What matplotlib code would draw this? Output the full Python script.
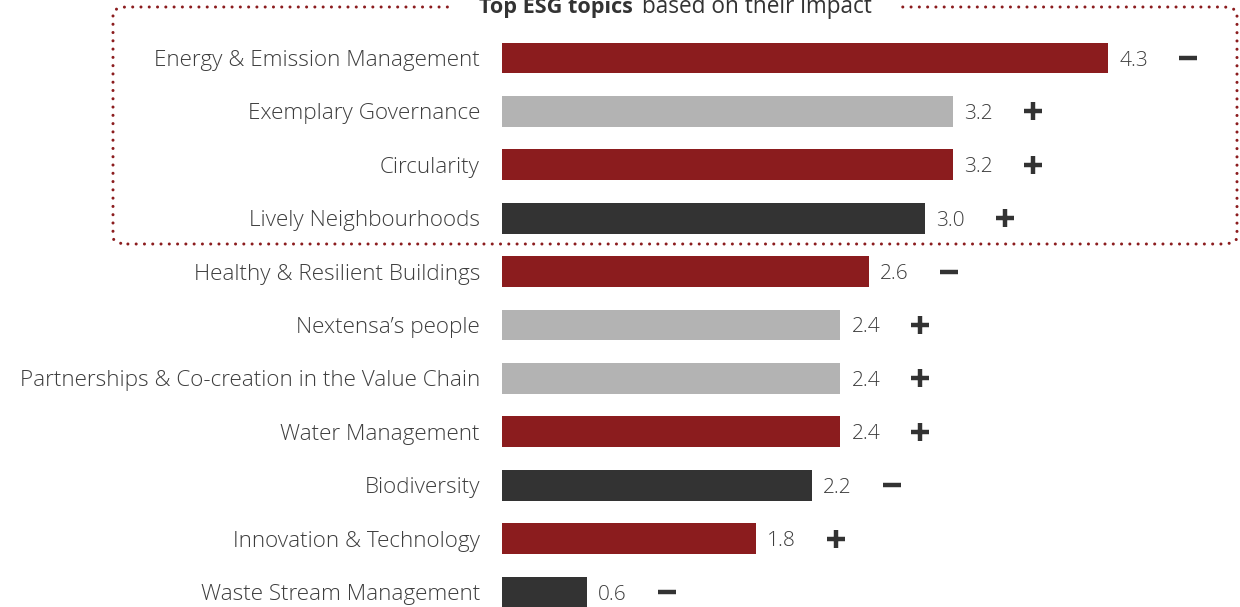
import matplotlib.pyplot as plt
from matplotlib.patches import FancyBboxPatch

topics = [
    "Energy & Emission Management",
    "Exemplary Governance",
    "Circularity",
    "Lively Neighbourhoods",
    "Healthy & Resilient Buildings",
    "Nextensa\u2019s people",
    "Partnerships & Co-creation in the Value Chain",
    "Water Management",
    "Biodiversity",
    "Innovation & Technology",
    "Waste Stream Management",
]
impact = [4.3, 3.2, 3.2, 3.0, 2.6, 2.4, 2.4, 2.4, 2.2, 1.8, 0.6]
trend = ["-", "+", "+", "+", "-", "+", "+", "+", "-", "+", "-"]
group = ["env", "gov", "env", "soc", "env", "gov", "gov", "env", "soc", "env", "soc"]

colors = {"env": "#8b1c1e", "gov": "#b3b3b3", "soc": "#333333"}
text_color = "#3d3d3d"

plt.rcParams['font.family'] = ['Open Sans', 'DejaVu Sans']

W, H = 1240, 607
fig = plt.figure(figsize=(W / 100, H / 100), dpi=100)

# axes covers the plotting strip right of the labels; 141 px per unit
x0 = 502
px_per_unit = 141
row0, row_step = 58, 53.4
ax = fig.add_axes([x0 / W, 0, 1 - x0 / W, 1])
ax.set_xlim(0, (W - x0) / px_per_unit)
ax.set_ylim((H - row0) / row_step, -row0 / row_step)
ax.axis('off')

rows = list(range(len(topics)))
ax.barh(rows, impact, height=0.58, color=[colors[g] for g in group])

lab_off = 22 / px_per_unit
val_off = 11 / px_per_unit
sign_off = 80 / px_per_unit
for i, (name, v, t) in enumerate(zip(topics, impact, trend)):
    ax.text(-lab_off, i, name, ha='right', va='center_baseline', fontsize=16.2,
            fontweight='light', color=text_color, clip_on=False)
    ax.text(v + val_off, i, f"{v:.1f}", ha='left', va='center_baseline',
            fontsize=15, fontweight='light', color=text_color)
    ax.plot(v + sign_off, i, marker='+' if t == "+" else '_', markersize=13.5,
            markeredgewidth=3.2, color="#333333")

# dotted frame around the top topics
frame = FancyBboxPatch((113 / W, 1 - 244 / H), (1237 - 113) / W, (244 - 7) / H,
                       boxstyle="round,pad=0,rounding_size=0.012",
                       transform=fig.transFigure, fill=False,
                       edgecolor="#8b1c1e", linewidth=2.2,
                       linestyle=(0, (0.01, 2.7)), capstyle='round')
fig.add_artist(frame)

# white strip breaking the frame behind the title
fig.patches.append(plt.Rectangle((452 / W, 1 - 14 / H), 446 / W, 14 / H,
                                 transform=fig.transFigure, facecolor='white',
                                 edgecolor='none', zorder=3))

title_y = 1 - 13 / H
fig.text(633 / W, title_y, "Top ESG topics", ha='right', va='baseline',
         fontsize=15.6, fontweight='bold', color="#333333", zorder=4)
fig.text(642 / W, title_y, "based on their impact", ha='left', va='baseline',
         fontsize=16.3, color="#333333", zorder=4)

fig.savefig("out.png", dpi=100)
